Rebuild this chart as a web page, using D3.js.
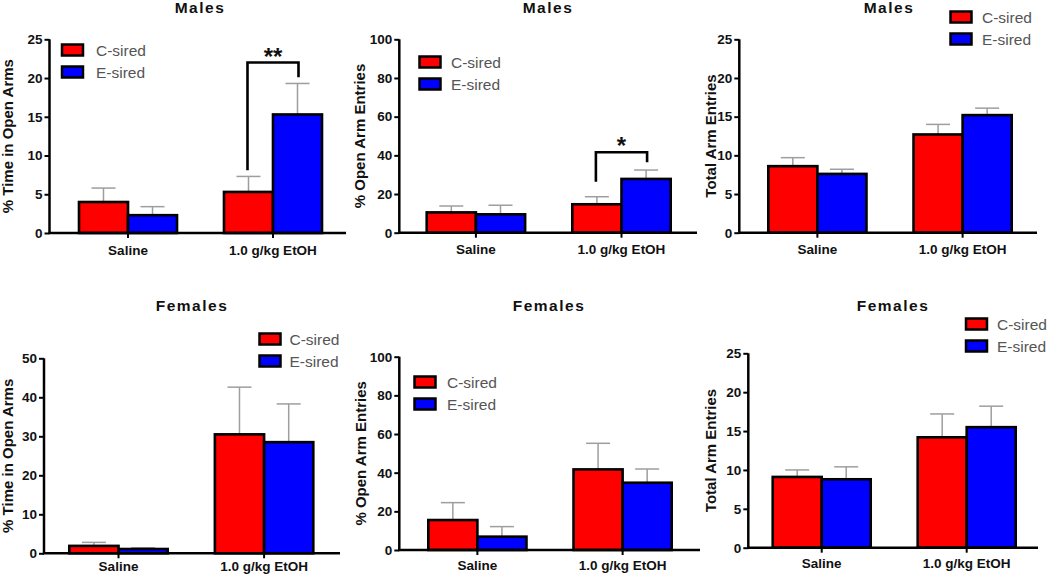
<!DOCTYPE html>
<html><head><meta charset="utf-8">
<script src="https://cdn.jsdelivr.net/npm/d3@7"></script>
<style>
html,body{margin:0;padding:0;background:#fff;}
svg{display:block;font-family:"Liberation Sans",Arial,sans-serif;}
</style></head>
<body><svg id="c" width="1050" height="578"></svg>
<script>
// ---- data ----
const categories = ["Saline", "1.0 g/kg EtOH"];
const seriesNames = ["C-sired", "E-sired"];
const seriesColors = ["#ff0000", "#0000ff"];
const panelTitles = ["Males", "Males", "Males", "Females", "Females", "Females"];
const yLabels = ["% Time in Open Arms", "% Open Arm Entries", "Total Arm Entries",
                 "% Time in Open Arms", "% Open Arm Entries", "Total Arm Entries"];
const yMax = [25, 100, 25, 50, 100, 25];
const yTicks = [[0,5,10,15,20,25],[0,20,40,60,80,100],[0,5,10,15,20,25],
                [0,10,20,30,40,50],[0,20,40,60,80,100],[0,5,10,15,20,25]];
// means per panel: [ [C Saline, C EtOH], [E Saline, E EtOH] ]
const maleTimeMean    = [[4.0, 5.3], [2.3, 15.3]];
const maleTimeErr     = [[5.8, 7.3], [3.4, 19.3]];
const maleEntryMean   = [[10.5, 14.7], [9.5, 27.8]];
const maleEntryErr    = [[13.8, 18.6], [14.2, 32.4]];
const maleTotalMean   = [[8.6, 12.7], [7.6, 15.2]];
const maleTotalErr    = [[9.7, 14.0], [8.2, 16.1]];
const femaleTimeMean  = [[1.9, 30.5], [1.1, 28.5]];
const femaleTimeErr   = [[2.8, 42.6], [1.4, 38.3]];
const femaleEntryMean = [[15.5, 41.7], [6.9, 34.8]];
const femaleEntryErr  = [[24.5, 55.2], [12.1, 41.9]];
const femaleTotalMean = [[9.1, 14.2], [8.8, 15.5]];
const femaleTotalErr  = [[10.0, 17.2], [10.4, 18.2]];
// significance brackets
const sigPanels = [0, 1];
const sigLeft   = [8.1, 26.4];
const sigRight  = [20.1, 36.4];
const sigTop    = [22.0, 41.6];
const sigLabels = ["**", "*"];

const means = [maleTimeMean, maleEntryMean, maleTotalMean, femaleTimeMean, femaleEntryMean, femaleTotalMean];
const errs  = [maleTimeErr, maleEntryErr, maleTotalErr, femaleTimeErr, femaleEntryErr, femaleTotalErr];

// ---- layout (positions only) ----
const layout = [
  {ax:49.5, top:39.3, bot:233,   end:346,  b0:79,    b1:322,   lbx:7.5, tx:200, ty:13,  leg:[62,44.5],   legTx:96,    xpad:7},
  {ax:399.3,top:39.3, bot:232.7, end:697,  b0:426.7, b1:670.7, lbx:359, tx:548, ty:13,  leg:[419.5,56.5], legTx:451,   xpad:7},
  {ax:739.3,top:39.3, bot:232.7, end:1037, b0:768.3, b1:1011.7,lbx:710, tx:889, ty:13,  leg:[950.5,11.5], legTx:982,   xpad:7},
  {ax:44,   top:358.3,bot:553.3, end:340,  b0:69.3,  b1:313.3, lbx:7,   tx:192, ty:311, leg:[259.5,333.5],legTx:289.5, xpad:3.5},
  {ax:399.3,top:356.7,bot:550,   end:700,  b0:428.3, b1:671.7, lbx:360, tx:549, ty:311, leg:[414.5,376.5],legTx:447,   xpad:5},
  {ax:748.3,top:353.3,bot:547.7, end:1038, b0:772.7, b1:1015.7,lbx:710, tx:893, ty:311, leg:[966,318.5],  legTx:997,   xpad:5.5}
];

const svg = d3.select("#c");
const FONT = '"Liberation Sans",Arial,sans-serif';

layout.forEach((L, p) => {
  const g = svg.append("g");
  const y = d3.scaleLinear().domain([0, yMax[p]]).range([L.bot, L.top]);
  const x = d3.scaleBand().domain(categories).range([L.b0, L.b1]).paddingInner(0.324).paddingOuter(0);
  const xs = d3.scaleBand().domain(seriesNames).range([0, x.bandwidth()]).padding(0);

  // title
  g.append("text").attr("x", L.tx).attr("y", L.ty).attr("text-anchor", "middle")
    .attr("font-size", 15.5).attr("font-weight", "bold").attr("letter-spacing", "1.5px")
    .attr("fill", "#111").text(panelTitles[p]);

  // y label
  g.append("text").attr("transform", `translate(${L.lbx},${(L.top + L.bot) / 2}) rotate(-90)`)
    .attr("text-anchor", "middle").attr("dominant-baseline", "central")
    .attr("font-size", 15).attr("font-weight", "bold").attr("fill", "#111").text(yLabels[p]);

  // error bars (upper only)
  seriesNames.forEach((s, si) => {
    categories.forEach((c, ci) => {
      const cx = x(c) + xs(s) + xs.bandwidth() / 2;
      const yt = y(errs[p][si][ci]);
      g.append("line").attr("x1", cx).attr("x2", cx).attr("y1", y(means[p][si][ci])).attr("y2", yt)
        .attr("stroke", "#9e9e9e").attr("stroke-width", 1.5);
      g.append("line").attr("x1", cx - 12).attr("x2", cx + 12).attr("y1", yt).attr("y2", yt)
        .attr("stroke", "#9e9e9e").attr("stroke-width", 1.5);
    });
  });

  // bars
  seriesNames.forEach((s, si) => {
    g.selectAll(null).data(categories).join("rect")
      .attr("x", c => x(c) + xs(s))
      .attr("y", (c, ci) => y(means[p][si][ci]))
      .attr("width", xs.bandwidth())
      .attr("height", (c, ci) => L.bot - y(means[p][si][ci]))
      .attr("fill", seriesColors[si]).attr("stroke", "#000").attr("stroke-width", 2.6);
  });

  // y axis
  const ya = g.append("g").attr("transform", `translate(${L.ax},0)`)
    .call(d3.axisLeft(y).tickValues(yTicks[p]).tickSize(5).tickPadding(2).tickFormat(d3.format("d")));
  ya.select(".domain").attr("stroke", "#000").attr("stroke-width", 2.5)
    .attr("d", `M0,${L.top}V${L.bot}`);
  ya.selectAll(".tick line").attr("stroke", "#000").attr("stroke-width", 2);
  ya.selectAll(".tick text").attr("font-size", 13.5).attr("font-weight", "bold")
    .attr("font-family", FONT).attr("fill", "#111");

  // x axis
  const xa = g.append("g").attr("transform", `translate(0,${L.bot})`)
    .call(d3.axisBottom(x).tickSize(5).tickPadding(L.xpad));
  xa.select(".domain").attr("stroke", "#000").attr("stroke-width", 2.5)
    .attr("d", `M${L.ax - 1},0H${L.end}`);
  xa.selectAll(".tick line").attr("stroke", "#000").attr("stroke-width", 2);
  xa.selectAll(".tick text").attr("font-size", 13.5).attr("font-weight", "bold")
    .attr("font-family", FONT).attr("fill", "#111");

  // legend
  seriesNames.forEach((s, si) => {
    const ly = L.leg[1] + si * 22;
    g.append("rect").attr("x", L.leg[0]).attr("y", ly).attr("width", 21).attr("height", 11)
      .attr("fill", seriesColors[si]).attr("stroke", "#000").attr("stroke-width", 2.5);
    g.append("text").attr("x", L.legTx).attr("y", ly + 5.5).attr("dominant-baseline", "central")
      .attr("font-size", 15.5).attr("fill", "#555").text(s);
  });

  // significance bracket
  const si = sigPanels.indexOf(p);
  if (si >= 0) {
    const xl = x(categories[1]) + xs(seriesNames[0]) + xs.bandwidth() / 2 - 1;
    const xr = x(categories[1]) + xs(seriesNames[1]) + xs.bandwidth() / 2 + 1;
    g.append("path")
      .attr("d", `M${xl},${y(sigLeft[si])}V${y(sigTop[si])}H${xr}V${y(sigRight[si])}`)
      .attr("fill", "none").attr("stroke", "#000").attr("stroke-width", 2.6);
    g.append("text").attr("x", (xl + xr) / 2).attr("y", y(sigTop[si]) + 2)
      .attr("text-anchor", "middle").attr("font-size", 24).attr("font-weight", "bold")
      .attr("fill", "#111").text(sigLabels[si]);
  }
});
</script></body></html>
